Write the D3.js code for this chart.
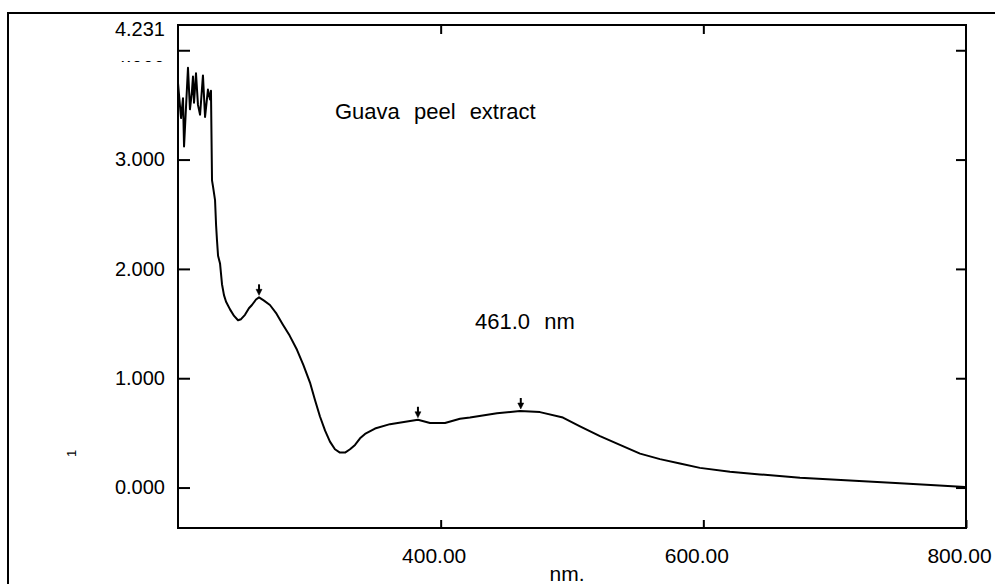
<!DOCTYPE html>
<html>
<head>
<meta charset="utf-8">
<script src="https://cdn.jsdelivr.net/npm/d3@7"></script>
<style>
body { margin: 0; background: #fff; }
svg { display: block; font-family: "Liberation Sans", Arial, sans-serif; }
</style>
</head>
<body>
<div id="chart"></div>
<script>
// spectrum (nm, absorbance)
const wavelength = [
    200.0, 202.3, 203.8, 204.6, 207.6, 209.1, 210.6, 211.4, 212.2, 213.7,
    215.2, 216.8, 219.0, 220.6, 222.8, 224.4, 225.1, 225.9, 226.7, 228.2,
    229.0, 229.7, 230.5, 232.0, 233.5, 235.0, 236.6, 239.6, 242.7, 245.7,
    248.0, 251.0, 254.0, 256.3, 259.4, 261.7, 265.5, 270.0, 275.0, 279.9,
    285.0, 290.6, 295.5, 300.5, 304.3, 308.1, 312.0, 315.7, 319.5, 323.3,
    327.2, 331.0, 334.8, 338.6, 342.4, 350.0, 361.4, 372.0, 382.7, 391.9,
    403.3, 414.7, 422.3, 442.9, 460.4, 475.6, 493.1, 506.1, 521.3, 536.5,
    551.8, 567.0, 582.2, 597.4, 620.3, 643.1, 673.6, 711.7, 749.7, 776.4,
    799.2
];
const absorbance = [
    3.70, 3.38, 3.56, 3.12, 3.84, 3.46, 3.62, 3.76, 3.52, 3.79,
    3.50, 3.41, 3.77, 3.39, 3.64, 3.55, 3.63, 2.81, 2.75, 2.63,
    2.40, 2.26, 2.12, 2.05, 1.86, 1.76, 1.70, 1.63, 1.57, 1.53,
    1.54, 1.58, 1.64, 1.67, 1.72, 1.74, 1.71, 1.67, 1.59, 1.49,
    1.39, 1.26, 1.12, 0.96, 0.80, 0.65, 0.52, 0.42, 0.35, 0.32,
    0.32, 0.35, 0.39, 0.45, 0.49, 0.54, 0.58, 0.60, 0.62, 0.59,
    0.59, 0.63, 0.64, 0.68, 0.70, 0.69, 0.64, 0.56, 0.47, 0.39,
    0.31, 0.26, 0.22, 0.18, 0.145, 0.12, 0.09, 0.065, 0.04, 0.02,
    0.005
];

// picked peaks
const peakNm = [261.7, 382.7, 461.0];
const peakAbs = [1.74, 0.62, 0.70];

const yTicks = [0, 1, 2, 3, 4];
const xTicks = [400, 600, 800];
const yTop = 4.231;

const width = 995;
const height = 584;
const plot = { left: 178, right: 966, top: 25, bottom: 528 };

const svg = d3
    .select('#chart')
    .append('svg')
    .attr('width', width)
    .attr('height', height);

const x = d3.scaleLinear().domain([200, 800]).range([plot.left, plot.right]);
const y = d3.scaleLinear().domain([-0.37, yTop]).range([plot.bottom, plot.top]);

// outer frame (only top and left edges show)
svg.append('path')
    .attr('d', `M8,${height}V13H${width}`)
    .attr('fill', 'none')
    .attr('stroke', '#000')
    .attr('stroke-width', 2);

// axes, ticks point inward
const leftAxis = svg.append('g')
    .attr('transform', `translate(${plot.left},0)`)
    .call(d3.axisLeft(y).tickValues(yTicks).tickSize(-12).tickPadding(13).tickFormat(d3.format('.3f')));

const rightAxis = svg.append('g')
    .attr('transform', `translate(${plot.right},0)`)
    .call(d3.axisRight(y).tickValues(yTicks).tickSize(-10).tickFormat(''));

const bottomAxis = svg.append('g')
    .attr('transform', `translate(0,${plot.bottom})`)
    .call(d3.axisBottom(x).tickValues(xTicks).tickSize(-8).tickPadding(20).tickFormat(d3.format('.2f')));

const topAxis = svg.append('g')
    .attr('transform', `translate(0,${plot.top})`)
    .call(d3.axisTop(x).tickValues(xTicks.slice(0, 2)).tickSize(-9).tickFormat(''));

[leftAxis, rightAxis, bottomAxis, topAxis].forEach((a) => {
    a.select('.domain').remove();
    a.selectAll('line').attr('stroke', '#000').attr('stroke-width', 2);
});

leftAxis.selectAll('text').attr('font-size', 20).attr('fill', '#000');
bottomAxis.selectAll('text').attr('font-size', 21).attr('fill', '#000').attr('dx', -7);

// the 4.000 label is mostly hidden under the top value label
leftAxis.selectAll('text').filter((d) => d === 4).attr('y', 5);
svg.append('rect')
    .attr('x', 95)
    .attr('y', 38)
    .attr('width', 78)
    .attr('height', 23)
    .attr('fill', '#fff');

svg.append('text')
    .attr('x', plot.left - 13)
    .attr('y', y(yTop) + 5)
    .attr('dy', '0.32em')
    .attr('text-anchor', 'end')
    .attr('font-size', 20)
    .text(d3.format('.3f')(yTop));

// plot box
svg.append('rect')
    .attr('x', plot.left)
    .attr('y', plot.top)
    .attr('width', plot.right - plot.left)
    .attr('height', plot.bottom - plot.top)
    .attr('fill', 'none')
    .attr('stroke', '#000')
    .attr('stroke-width', 2);

// spectrum
const points = wavelength.map((w, i) => [w, absorbance[i]]);
const line = d3.line()
    .x((d) => x(d[0]))
    .y((d) => y(d[1]));

svg.append('path')
    .datum(points)
    .attr('d', line)
    .attr('fill', 'none')
    .attr('stroke', '#000')
    .attr('stroke-width', 2)
    .attr('stroke-linejoin', 'round');

// peak markers
const markers = svg.append('g').attr('fill', '#000').attr('stroke', '#000');
peakNm.forEach((p, i) => {
    const px = x(p);
    const py = y(peakAbs[i]);
    markers.append('line')
        .attr('x1', px).attr('x2', px)
        .attr('y1', py - 13).attr('y2', py - 6)
        .attr('stroke-width', 2);
    markers.append('path')
        .attr('d', `M${px - 3},${py - 8}L${px + 3},${py - 8}L${px},${py - 2}Z`)
        .attr('stroke-width', 0.5);
});

// annotations
svg.append('text')
    .attr('x', 335)
    .attr('y', 119)
    .attr('font-size', 22)
    .attr('word-spacing', 8)
    .text('Guava peel extract');

svg.append('text')
    .attr('x', 475)
    .attr('y', 329)
    .attr('font-size', 22)
    .attr('word-spacing', 8)
    .text('461.0 nm');

svg.append('text')
    .attr('x', 567)
    .attr('y', 581)
    .attr('text-anchor', 'middle')
    .attr('font-size', 21)
    .text('nm.');

svg.append('text')
    .attr('transform', 'translate(76,457) rotate(-90)')
    .attr('font-size', 13)
    .text('1');
</script>
</body>
</html>
